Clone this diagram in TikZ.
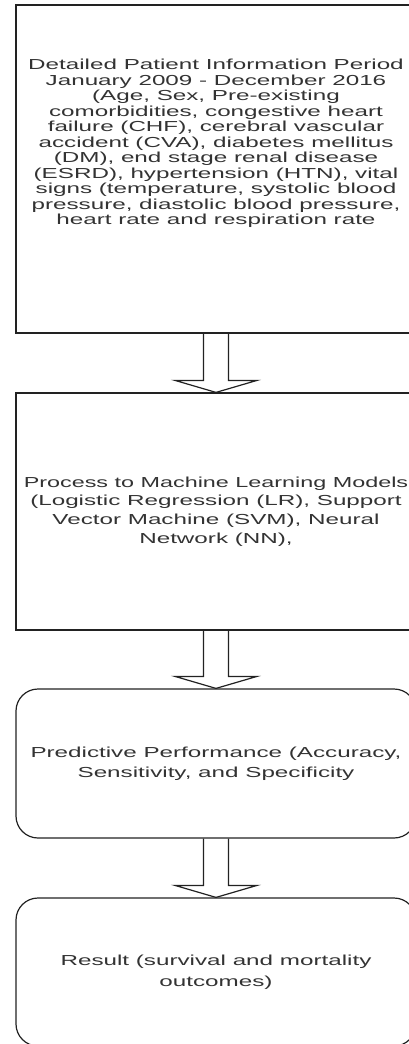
\documentclass[tikz,border=0pt]{standalone}
\usepackage{fontspec}
\setmainfont{Liberation Sans}[FakeStretch=1.67]
\usetikzlibrary{calc}
\definecolor{linecol}{HTML}{222222}
\definecolor{txtcol}{HTML}{333333}
\tikzset{
  boxnode/.style={draw=linecol, line width=1.2pt, fill=white, rectangle,
    minimum width=400pt, inner sep=0pt, align=center, text=txtcol},
  roundbox/.style={boxnode, rounded corners=22pt},
  txtA/.style={align=center, text=txtcol, inner sep=0pt, font=\fontsize{14.5}{15.5}\selectfont},
  arrowline/.style={draw=linecol, line width=1.2pt, line join=miter}
}
\newcommand{\blockarrow}[2]{%
  \draw[arrowline] ($(#1.south)+(-12.5,0)$) -- ($(#2.north)+(-12.5,12)$)
    -- ($(#2.north)+(-41,12)$) -- (#2.north) -- ($(#2.north)+(41,12)$)
    -- ($(#2.north)+(12.5,12)$) -- ($(#1.south)+(12.5,0)$);}
\begin{document}
\begin{tikzpicture}[x=1pt,y=1pt]
\useasboundingbox (0,0) rectangle (409,-1044);
\clip (0,0) rectangle (409,-1044);
\node[boxnode, minimum height=328pt,
  label={[txtA, anchor=north, yshift=-54.5pt, name=t1]north:{Detailed Patient Information Period\\
January 2009 - December 2016\\
(Age, Sex, Pre-existing\\
comorbidities, congestive heart\\
failure (CHF), cerebral vascular\\
accident (CVA), diabetes mellitus\\
(DM), end stage renal disease\\
(ESRD), hypertension (HTN), vital\\
signs (temperature, systolic blood\\
pressure, diastolic blood pressure,\\
heart rate and respiration rate}}] (n1) at (216,-169) {};
\node[boxnode, minimum height=237pt, font=\fontsize{14.5}{18.7}\selectfont] (n2) at (216,-511.5)
  {\scalebox{0.965}[1]{Process to Machine Learning Models}\\(Logistic Regression (LR), Support\\Vector Machine (SVM), Neural\\Network (NN),};
\node[roundbox, minimum height=149pt, font=\fontsize{14.5}{20}\selectfont] (n3) at (216,-763.5)
  {Predictive Performance (Accuracy,\\Sensitivity, and Specificity};
\node[roundbox, minimum height=148pt, font=\fontsize{14.5}{21}\selectfont] (n4) at (216,-972)
  {Result (survival and mortality\\outcomes)};
\blockarrow{n1}{n2}
\blockarrow{n2}{n3}
\blockarrow{n3}{n4}
\end{tikzpicture}
\end{document}
